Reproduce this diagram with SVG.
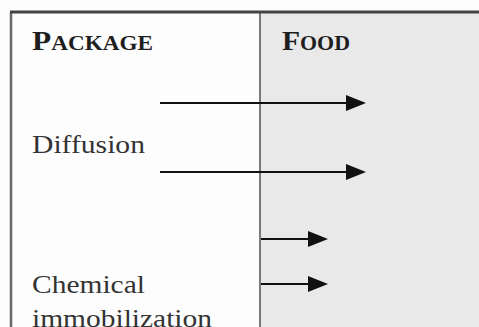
<svg xmlns="http://www.w3.org/2000/svg" width="479" height="327" viewBox="0 0 479 327">
  <style>
    .head { font-family: "Liberation Serif", "Times New Roman", serif; font-weight: bold; fill: #1e1e1e; }
    .lbl { font-family: "Liberation Serif", "Times New Roman", serif; font-size: 26px; fill: #333; }
    .arrow { stroke: #111; stroke-width: 2; fill: none; marker-end: url(#ah); }
  </style>
  <defs>
    <marker id="ah" markerUnits="userSpaceOnUse" markerWidth="20" markerHeight="18" refX="0" refY="9" orient="auto">
      <path d="M0,1 L20,9 L0,17 z" fill="#111"/>
    </marker>
  </defs>
  <rect x="0" y="0" width="479" height="327" fill="#fdfdfd"/>
  <g id="package">
    <rect x="11" y="12" width="249" height="315" fill="#fdfdfd"/>
    <text class="head" x="32" y="50" font-size="27" textLength="121" lengthAdjust="spacingAndGlyphs">P<tspan font-size="20">ACKAGE</tspan></text>
    <text class="lbl" x="32" y="153" textLength="113" lengthAdjust="spacingAndGlyphs">Diffusion</text>
    <text class="lbl" x="32" y="293" textLength="113" lengthAdjust="spacingAndGlyphs">Chemical</text>
    <text class="lbl" x="32" y="327" textLength="180" lengthAdjust="spacingAndGlyphs">immobilization</text>
  </g>
  <g id="food">
    <rect x="260" y="12" width="219" height="315" fill="#e9e9e9"/>
    <text class="head" x="282" y="50" font-size="27" textLength="68" lengthAdjust="spacingAndGlyphs">F<tspan font-size="20">OOD</tspan></text>
  </g>
  <g id="frame">
    <line x1="11" y1="12" x2="11" y2="327" stroke="#6a6a6a" stroke-width="2.5"/>
    <line x1="260" y1="12" x2="260" y2="327" stroke="#7a7a7a" stroke-width="2"/>
    <line x1="10" y1="12" x2="479" y2="12" stroke="#444" stroke-width="3"/>
  </g>
  <g id="connectors">
    <line class="arrow" x1="160" y1="103" x2="346" y2="103"/>
    <line class="arrow" x1="160" y1="172" x2="346" y2="172"/>
    <line class="arrow" x1="261" y1="239" x2="308" y2="239"/>
    <line class="arrow" x1="261" y1="284" x2="308" y2="284"/>
  </g>
</svg>
